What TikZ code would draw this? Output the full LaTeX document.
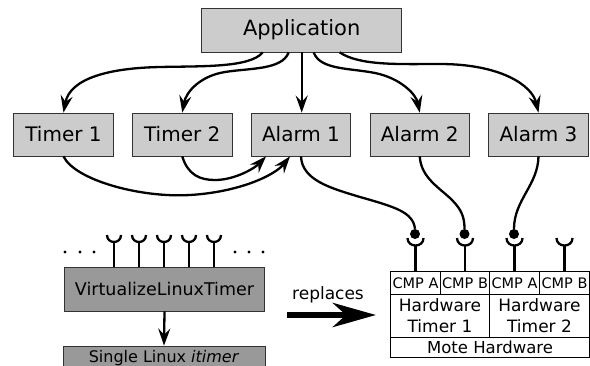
\documentclass[tikz,border=0pt]{standalone}
\usepackage{fontspec}
\setmainfont{DejaVu Sans}
\usetikzlibrary{arrows.meta}

\definecolor{boxgray}{HTML}{CCCCCC}
\definecolor{vltgray}{HTML}{999999}

\begin{document}
\begin{tikzpicture}[x=1pt,y=-1pt,
    blk/.style={draw=black!80,fill=boxgray,line width=0.8pt,minimum width=99.5pt,minimum height=43pt,inner sep=0pt,font=\fontsize{20}{24}\selectfont},
    wire/.style={line width=2.3pt,-{Stealth[length=17pt,width=12pt,inset=6pt]}},
    link/.style={line width=2.3pt},
    cell/.style={draw,line width=1pt,inner sep=0pt,anchor=north west,align=center},
    cmp/.style={cell,minimum height=23pt,font=\fontsize{14.5}{16}\selectfont},
    ball/.style={circle,fill=black,inner sep=0pt,minimum size=10pt}]
    \useasboundingbox (0,0) rectangle (590,365);

    % upper half: application and its timers / alarms
    \node[blk,minimum width=200pt,minimum height=44pt,font=\fontsize{21}{24}\selectfont] (app) at (301.7,30) {Application};
    \node[blk] (t1) at (63.5,134.5) {Timer 1};
    \node[blk] (t2) at (182.25,134.5) {Timer 2};
    \node[blk] (a1) at (301,134.5) {Alarm 1};
    \node[blk] (a2) at (419.75,134.5) {Alarm 2};
    \node[blk] (a3) at (538.5,134.5) {Alarm 3};

    \draw[wire] ([xshift=-39pt]app.south) .. controls (250,68) and (200,66) .. (160,67) .. controls (110,68) and (70,78) .. (t1.north);
    \draw[wire] ([xshift=-13pt]app.south) .. controls (282,70) and (250,68) .. (225,72) .. controls (200,76) and (186,92) .. (t2.north);
    \draw[wire] (app.south) -- (app.south |- a1.north);
    \draw[wire] ([xshift=12pt]app.south) .. controls (320,70) and (350,68) .. (375,73) .. controls (400,78) and (416,94) .. (a2.north);
    \draw[wire] ([xshift=38pt]app.south) .. controls (360,66) and (400,64) .. (440,64) .. controls (500,64) and (532,85) .. (a3.north);

    \draw[wire] (t1.south) .. controls (75,180) and (140,198) .. (190,195) .. controls (240,192) and (275,175) .. ([xshift=-11pt]a1.south);
    \draw[wire] (t2.south) .. controls (188,175) and (200,180) .. (215,180) .. controls (235,180) and (255,168) .. ([xshift=-35pt]a1.south);

    % mote hardware
    \node[cmp,minimum width=50pt] (ca1) at (390,271) {CMP A};
    \node[cmp,minimum width=49pt] (cb1) at (440,271) {CMP B};
    \node[cmp,minimum width=50pt] (ca2) at (489,271) {CMP A};
    \node[cmp,minimum width=50pt] (cb2) at (539,271) {CMP B};
    \node[cell,minimum width=99pt,minimum height=43pt,font=\fontsize{17}{21}\selectfont] (hw1) at (390,294) {Hardware\\Timer 1};
    \node[cell,minimum width=100pt,minimum height=43pt,font=\fontsize{17}{21}\selectfont] (hw2) at (489,294) {Hardware\\Timer 2};
    \node[cell,minimum width=199pt,minimum height=20pt,font=\fontsize{16.5}{20}\selectfont] (mote) at (390,337) {Mote Hardware};

    \node[ball] (b1) at (415,234) {};
    \node[ball] (b2) at (464.5,234) {};
    \node[ball] (b3) at (514,234) {};

    \foreach \c in {ca1,cb1,ca2,cb2} {
      \draw[link] (\c.north) -- ++(0,-26);
      \draw[link] ([shift={(-8,-33)}]\c.north) .. controls +(0,10) and +(0,10) .. ([shift={(8,-33)}]\c.north);
    }

    \draw[link] (a1.south) .. controls (302,180) and (330,188) .. (360,197) .. controls (395,207) and (413,212) .. (b1.north);
    \draw[link] (a2.south) .. controls (421,178) and (440,188) .. (452,200) .. controls (462,210) and (464.5,218) .. (b2.north);
    \draw[link] (a3.south) .. controls (538,185) and (514,200) .. (b3.north);

    % lower left: the linux version
    \node[draw=black!80,fill=vltgray,line width=0.8pt,minimum width=200pt,minimum height=44pt,font=\fontsize{17.5}{21}\selectfont] (vlt) at (164.5,289) {VirtualizeLinuxTimer};
    \node[draw=black!80,fill=vltgray,line width=0.8pt,minimum width=202pt,minimum height=24pt,inner ysep=2pt,font=\fontsize{16}{19}\selectfont] (itimer) at (164,358) {Single Linux \textit{itimer}};
    \draw[wire] (vlt.south) -- (itimer.north);

    \foreach \x in {114,139,164,189,214} {
      \draw[link] (\x,242) -- (\x,242 |- vlt.north);
      \draw[link] (\x-7,235) .. controls (\x-7,244.3) and (\x+7,244.3) .. (\x+7,235);
    }
    \foreach \x in {65,80,94,235,249,263}
      \fill (\x,252) circle[radius=1.6];

    \node[font=\fontsize{17}{20}\selectfont,anchor=base] (rep) at (328,299) {replaces};
    \coordinate (repfrom) at (287,315);
    \draw[line width=6.5pt,-{Stealth[length=43pt,width=24pt,inset=13pt]},shorten >=14pt] (repfrom) -- (repfrom -| hw1.west);
\end{tikzpicture}
\end{document}
